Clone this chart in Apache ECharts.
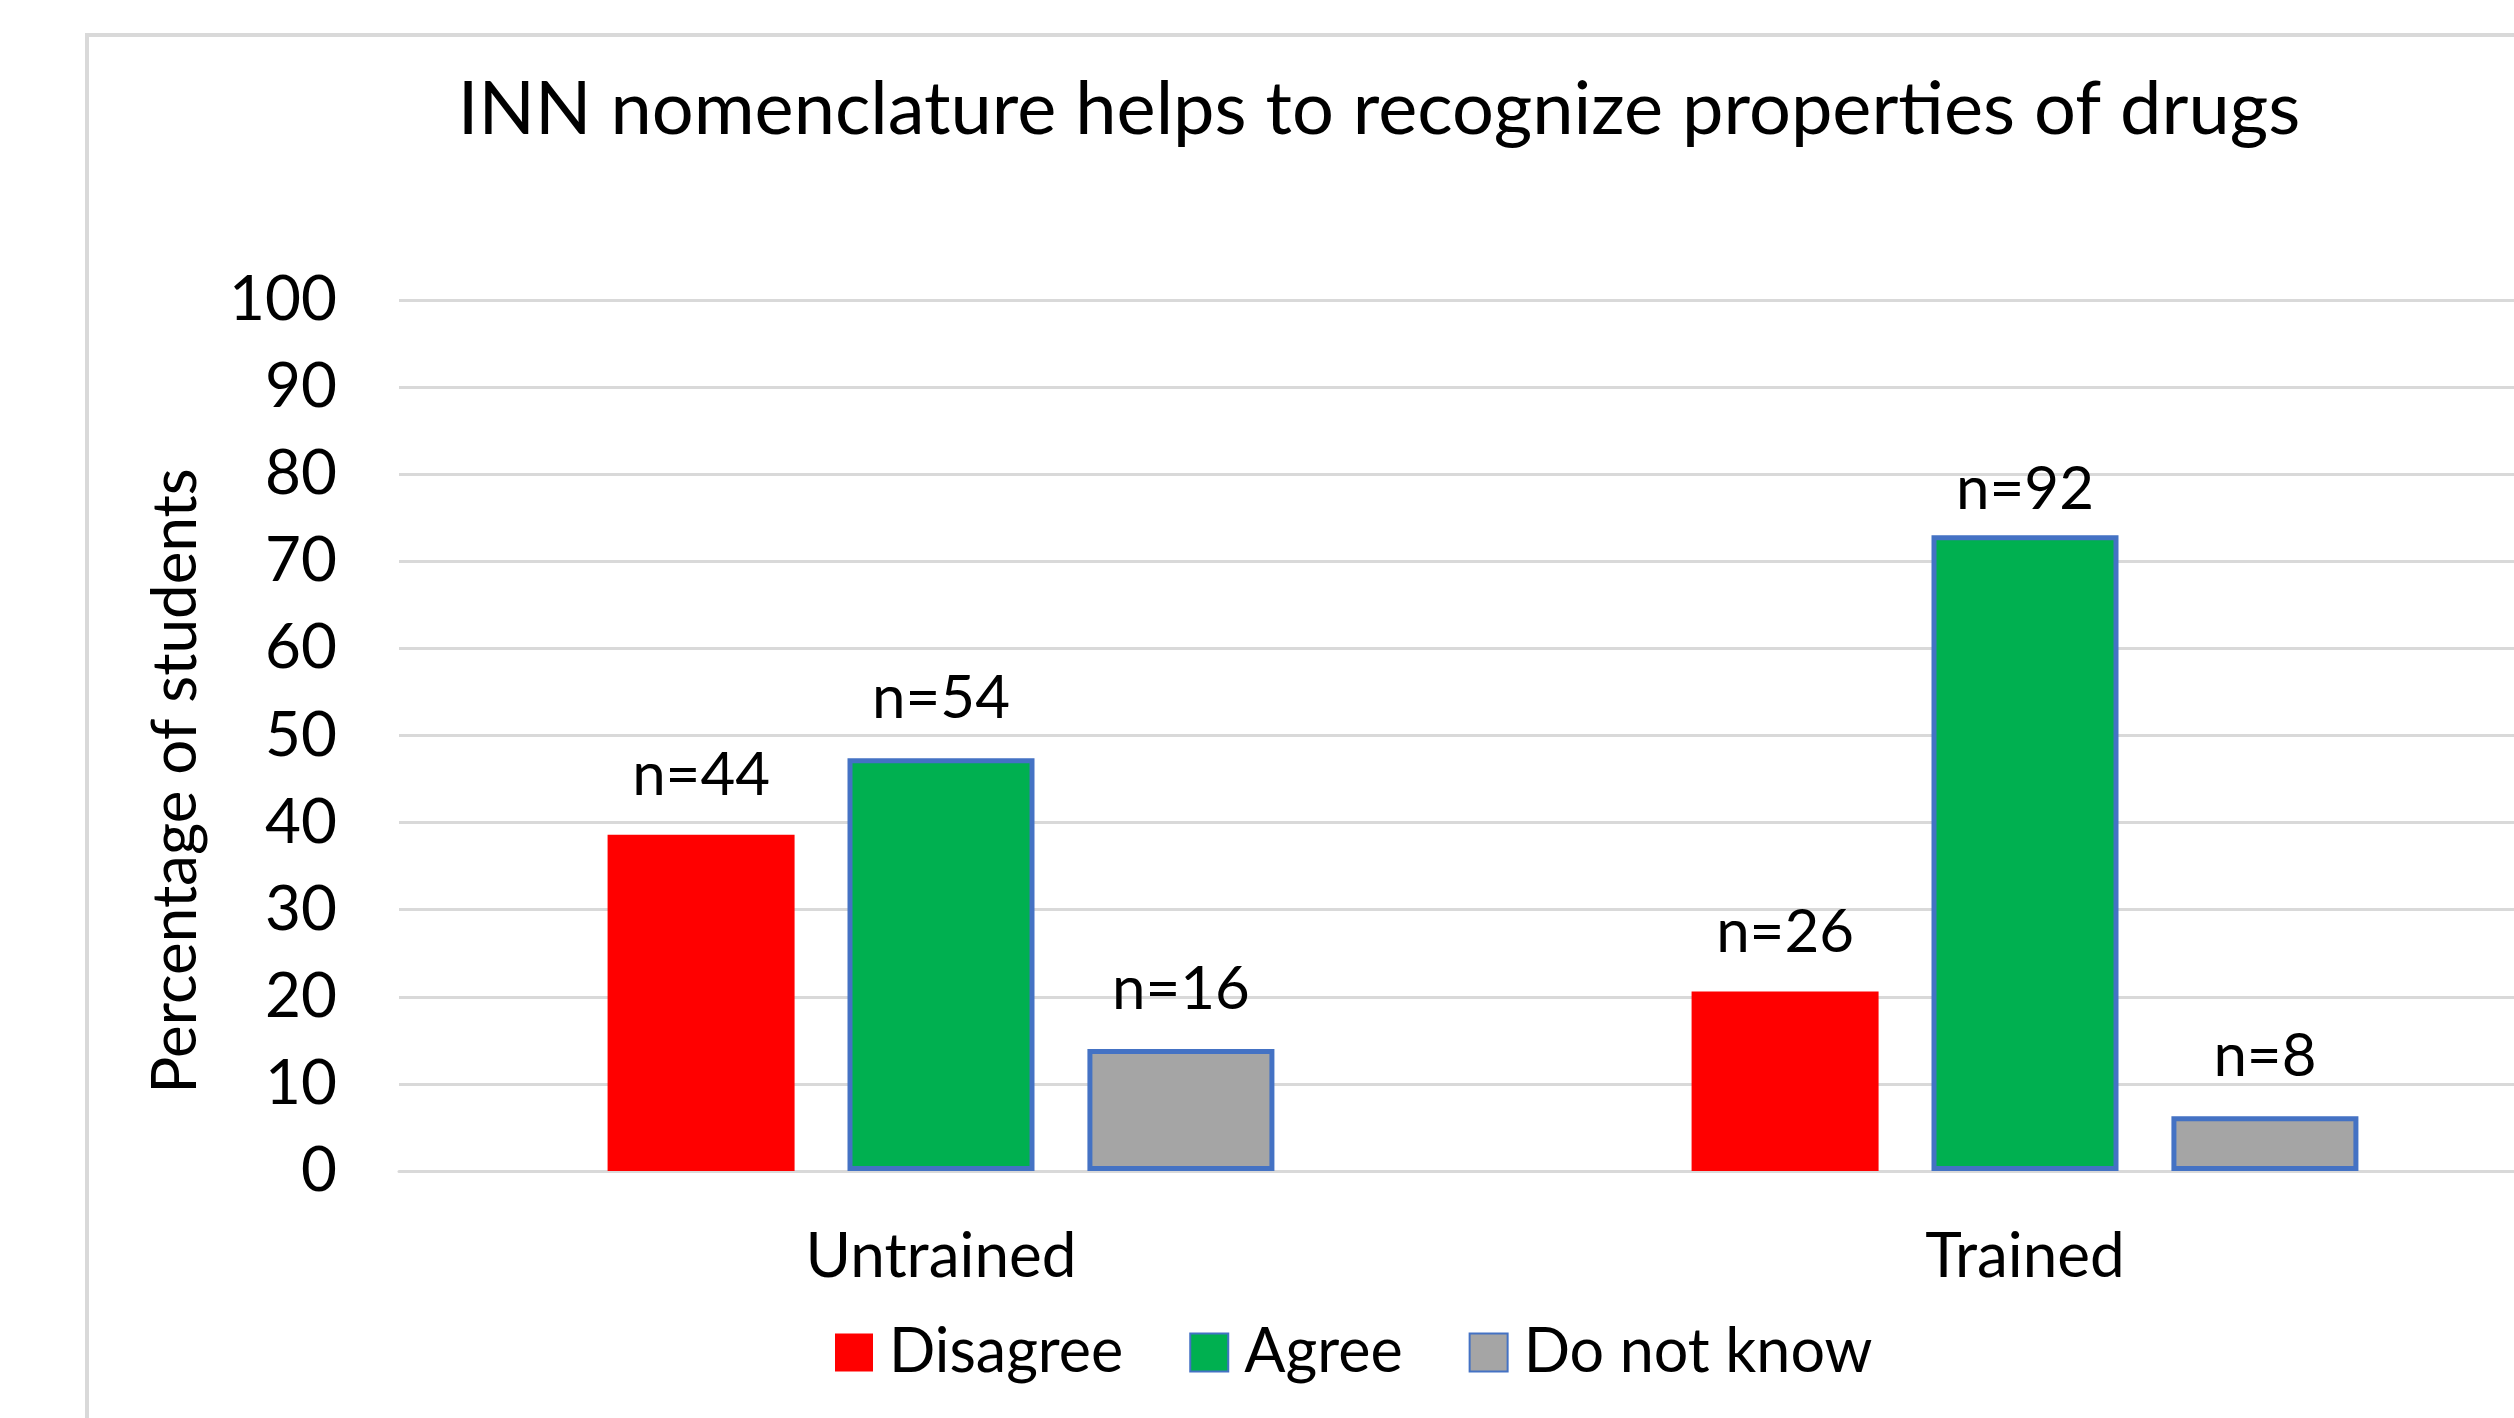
<!DOCTYPE html>
<html>
<head>
<meta charset="utf-8">
<script src="https://cdn.jsdelivr.net/npm/echarts@6/dist/echarts.min.js"></script>
<style>
html,body{margin:0;padding:0;background:#fff;}
#chart{width:2514px;height:1418px;}
</style>
</head>
<body>
<div id="chart"></div>
<script>
var categories = ['Untrained', 'Trained'];
var seriesNames = ['Disagree', 'Agree', 'Do not know'];
var disagreePct = [38.6, 20.6];
var agreePct = [47.4, 73.0];
var dontKnowPct = [14.0, 6.3];
var disagreeN = [44, 26];
var agreeN = [54, 92];
var dontKnowN = [16, 8];
var yMin = 0, yMax = 100, yStep = 10;
var titleText = 'INN nomenclature helps to recognize properties of drugs';
var yAxisTitle = 'Percentage of students';

var FONT = 'Lato';
var chart = echarts.init(document.getElementById('chart'));

// label offset overrides (style only), keyed by category index
var labelDistanceOverride = { 'Agree': { 1: 16 } };

function makeSeries(name, values, counts, color, border) {
  var over = labelDistanceOverride[name] || {};
  var data = values.map(function (v, i) {
    if (over[i] !== undefined) {
      return { value: v, label: { distance: over[i] } };
    }
    return v;
  });
  return {
    name: name,
    type: 'bar',
    data: data,
    barWidth: 187,
    barGap: '28.3%',
    itemStyle: {
      color: color,
      borderColor: border ? '#4472C4' : color,
      borderWidth: border ? 5 : 0
    },
    label: {
      show: true,
      position: 'top',
      distance: 29,
      color: '#000',
      fontFamily: FONT,
      fontSize: 60,
      formatter: function (p) { return 'n=' + counts[p.dataIndex]; }
    }
  };
}

chart.setOption({
  animation: false,
  backgroundColor: '#fff',
  textStyle: { fontFamily: FONT },
  title: {
    text: titleText,
    left: 1374,
    textAlign: 'center',
    top: 68,
    textStyle: { fontFamily: FONT, fontSize: 74, fontWeight: 'normal', color: '#000' }
  },
  grid: { left: 399, top: 300, width: 2168, bottom: 247, containLabel: false, outerBoundsMode: 'none' },
  legend: {
    data: seriesNames,
    left: 830,
    top: 1317,
    icon: 'rect',
    itemWidth: 38,
    itemHeight: 38,
    itemGap: 66,
    textStyle: { fontFamily: FONT, fontSize: 61, color: '#000', padding: [0, 0, 0, 11] }
  },
  xAxis: {
    type: 'category',
    data: categories,
    axisLine: { lineStyle: { color: '#d9d9d9', width: 3 } },
    axisTick: { show: false },
    axisLabel: { color: '#000', fontFamily: FONT, fontSize: 62, margin: 55 }
  },
  yAxis: {
    type: 'value',
    min: yMin,
    max: yMax,
    interval: yStep,
    axisLine: { show: false },
    axisTick: { show: false },
    splitLine: { lineStyle: { color: '#d9d9d9', width: 3 } },
    axisLabel: { color: '#000', fontFamily: FONT, fontSize: 62, margin: 62 }
  },
  graphic: [
    {
      type: 'rect',
      z: -10,
      silent: true,
      shape: { x: 87, y: 35, width: 3000, height: 3000 },
      style: { fill: 'none', stroke: '#d9d9d9', lineWidth: 4 }
    },
    {
      type: 'text',
      x: 176,
      y: 781,
      rotation: Math.PI / 2,
      style: {
        text: yAxisTitle,
        fontFamily: FONT,
        fontSize: 62,
        fill: '#000',
        align: 'center',
        verticalAlign: 'middle'
      }
    }
  ],
  series: [
    makeSeries(seriesNames[0], disagreePct, disagreeN, '#FF0000', false),
    makeSeries(seriesNames[1], agreePct, agreeN, '#00B050', true),
    makeSeries(seriesNames[2], dontKnowPct, dontKnowN, '#A5A5A5', true)
  ]
});
</script>
</body>
</html>
